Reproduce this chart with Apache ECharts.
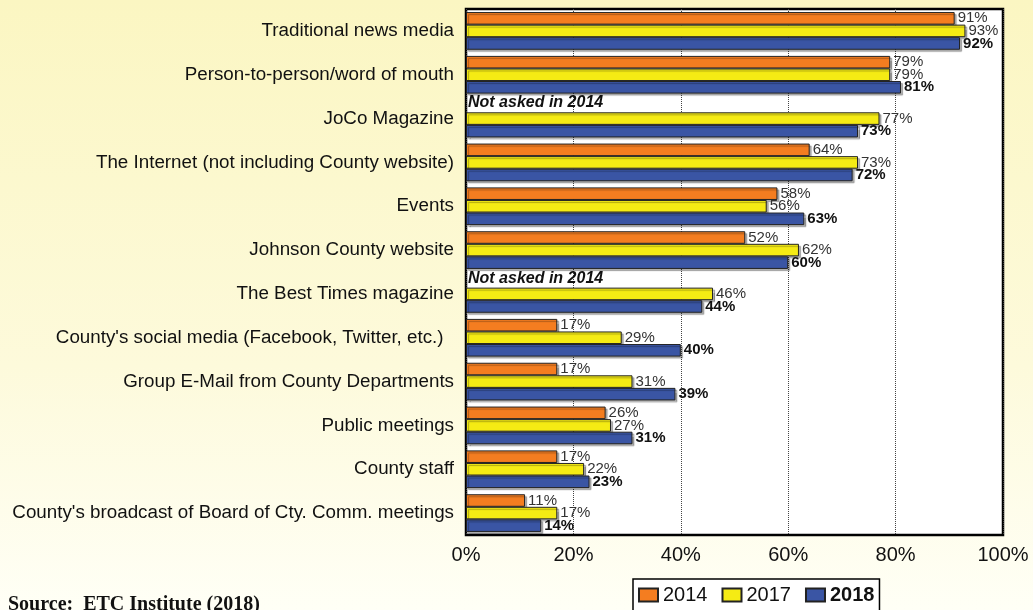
<!DOCTYPE html>
<html>
<head>
<meta charset="utf-8">
<script src="https://cdn.jsdelivr.net/npm/echarts@6/dist/echarts.min.js"></script>
<style>
html,body{margin:0;padding:0;}
#c{width:1033px;height:610px;}
</style>
</head>
<body>
<div id="c"></div>
<script>
const categories = [
  "Traditional news media",
  "Person-to-person/word of mouth",
  "JoCo Magazine",
  "The Internet (not including County website)",
  "Events",
  "Johnson County website",
  "The Best Times magazine",
  "County's social media (Facebook, Twitter, etc.)  ",
  "Group E-Mail from County Departments",
  "Public meetings",
  "County staff",
  "County's broadcast of Board of Cty. Comm. meetings"
];
const values2014 = [91, 79, null, 64, 58, 52, null, 17, 17, 26, 17, 11];
const values2017 = [93, 79, 77, 73, 56, 62, 46, 29, 31, 27, 22, 17];
const values2018 = [92, 81, 73, 72, 63, 60, 44, 40, 39, 31, 23, 14];
const xTicks = [0, 20, 40, 60, 80, 100];
const notAskedText = "Not asked in 2014";
const sourceText = "Source:  ETC Institute (2018)";

const chart = echarts.init(document.getElementById('c'), null, {renderer:'canvas'});

const baseItem = {
  borderColor: '#222',
  borderWidth: 1,
  shadowColor: 'rgba(0,0,0,0.3)',
  shadowBlur: 1,
  shadowOffsetX: 2,
  shadowOffsetY: 2
};

const d2014 = values2014.map(v => v === null ? {
  value: 0,
  itemStyle: {color: 'rgba(0,0,0,0)', borderWidth: 0, shadowColor: 'rgba(0,0,0,0)'},
  label: {show: true, formatter: notAskedText, fontStyle: 'italic', fontWeight: 'bold', color: '#111', fontSize: 16, distance: 2, offset: [0, -3]}
} : v);

function labelCfg(bold){
  return {
    show: true,
    position: 'right',
    distance: 3,
    fontFamily: 'Liberation Sans, Arial, sans-serif',
    fontSize: 15,
    fontWeight: bold ? 'bold' : 'normal',
    color: bold ? '#111' : '#333',
    formatter: p => p.value + '%'
  };
}

chart.setOption({
  backgroundColor: new echarts.graphic.LinearGradient(0, 0, 0, 1, [
    {offset: 0, color: '#FBF6C2'},
    {offset: 0.6, color: '#FDFADB'},
    {offset: 1, color: '#FFFFF6'}
  ]),
  animation: false,
  textStyle: {fontFamily: 'Liberation Sans, Arial, sans-serif'},
  grid: {
    left: 466, right: 30, top: 9, bottom: 75,
    show: true, backgroundColor: '#ffffff', borderColor: '#000', borderWidth: 2.5,
    containLabel: false
  },
  xAxis: {
    type: 'value', min: 0, max: 100, interval: 20,
    axisLine: {show: false},
    axisTick: {show: false},
    splitLine: {show: true, lineStyle: {type: 'dotted', color: '#444', width: 1}},
    axisLabel: {
      formatter: v => xTicks.includes(v) ? v + '%' : '',
      fontSize: 20, color: '#111', margin: 10,
      fontFamily: 'Liberation Sans, Arial, sans-serif'
    }
  },
  yAxis: {
    type: 'category', data: categories, inverse: true,
    axisLine: {show: false}, axisTick: {show: false},
    axisLabel: {fontSize: 18.8, color: '#111', margin: 12, padding: [4, 0, 0, 0], fontFamily: 'Liberation Sans, Arial, sans-serif'}
  },
  legend: {
    left: 633, top: 579,
    padding: [6, 5, 6, 5],
    itemGap: 14,
    itemWidth: 19, itemHeight: 13,
    icon: 'rect',
    borderColor: '#000', borderWidth: 1.5,
    backgroundColor: '#ffffff',
    textStyle: {fontSize: 20, color: '#111', fontFamily: 'Liberation Sans, Arial, sans-serif'},
    data: [
      {name: '2014'},
      {name: '2017'},
      {name: '2018', textStyle: {fontWeight: 'bold', fontSize: 20}}
    ]
  },
  graphic: [{
    type: 'text', left: 8, top: 595,
    style: {text: sourceText, font: 'bold 20px "Liberation Serif", "Times New Roman", serif', fill: '#111'}
  }],
  series: [
    {name: '2014', type: 'bar', data: d2014, barGap: '0%', barCategoryGap: '14%',
     itemStyle: Object.assign({color: '#F47D20'}, baseItem), label: labelCfg(false)},
    {name: '2017', type: 'bar', data: values2017, barGap: '0%', barCategoryGap: '14%',
     itemStyle: Object.assign({color: '#F5EB14'}, baseItem), label: labelCfg(false)},
    {name: '2018', type: 'bar', data: values2018, barGap: '0%', barCategoryGap: '14%',
     itemStyle: Object.assign({color: '#3A55A4'}, baseItem), label: labelCfg(true)}
  ]
});
</script>
</body>
</html>
